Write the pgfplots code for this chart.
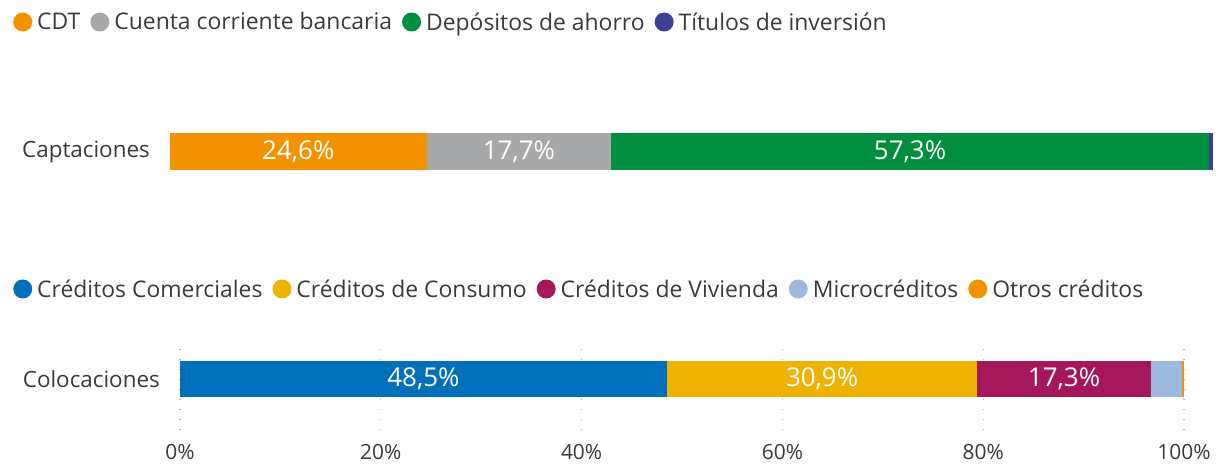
\documentclass[border=0pt]{standalone}
\usepackage{pgfplots}
\pgfplotsset{compat=1.18}
\usepackage{fontspec}
\setmainfont{Open Sans}
\definecolor{cdt}{HTML}{F39200}
\definecolor{cta}{HTML}{A7A8AA}
\definecolor{dep}{HTML}{008F3E}
\definecolor{tit}{HTML}{3C3F94}
\definecolor{com}{HTML}{0070BA}
\definecolor{con}{HTML}{EDB300}
\definecolor{viv}{HTML}{A4185A}
\definecolor{mic}{HTML}{9DBADE}
\definecolor{otr}{HTML}{F39200}
\definecolor{txt}{HTML}{3A3A3A}
\begin{document}
\begin{tikzpicture}
\useasboundingbox (0bp,0bp) rectangle (1216bp,464bp);
\pgfplotsset{
  nnc/.style={nodes near coords={\pgfmathprintnumber[fixed,fixed zerofill,precision=1,use comma]{\pgfplotspointmeta}\%}},
  common/.style={
    scale only axis, xbar stacked, xmin=0, xmax=100,
    axis line style={draw=none}, major tick length=0pt,
    point meta=explicit,
    /pgf/number format/assume math mode=true,
    yticklabel style={font=\fontsize{22.5}{22.5}\selectfont, text=txt, inner sep=0pt, xshift=-20bp},
    every node near coord/.append style={font=\fontsize{26}{26}\selectfont, text=white},
    legend style={draw=none, fill=none, legend columns=-1, inner sep=0pt,
      font=\fontsize{23}{23}\selectfont, text=txt,
      /tikz/every odd column/.append style={column sep=4bp},
      /tikz/every even column/.append style={column sep=9bp},
      nodes={inner sep=1bp}},
    legend image code/.code={\fill[##1] (0bp,0bp) circle (9.5bp);},
  }
}
\begin{axis}[common,
  at={(170bp,294bp)}, anchor=south west,
  width=1043bp, height=37bp, bar width=37bp,
  ymin=-0.5, ymax=0.5,
  xtick=\empty, ytick={0}, yticklabels={Captaciones},
  legend style={at={(-0.1505,4.0)}, anchor=west},
]
\addplot[fill=cdt, draw=none, nnc] coordinates {(24.6,0) [24.6]};
\addplot[fill=cta, draw=none, nnc] coordinates {(17.7,0) [17.7]};
\addplot[fill=dep, draw=none, nnc] coordinates {(57.3,0) [57.3]};
\addplot[fill=tit, draw=none] coordinates {(0.4,0) [0.4]};
\legend{CDT, Cuenta corriente bancaria, Depósitos de ahorro, Títulos de inversión}
\end{axis}
\begin{axis}[common,
  at={(180bp,34bp)}, anchor=south west,
  width=1004bp, height=90bp, bar width=36bp,
  ymin=-51, ymax=39,
  xtick={0,20,40,60,80,100},
  xticklabel={\pgfmathprintnumber{\tick}\%},
  xticklabel style={font=\fontsize{21}{21}\selectfont, text=txt, yshift=-11bp},
  ytick={0}, yticklabels={Colocaciones},
  xmajorgrids, grid style={gray!55, line width=1.3bp, dash pattern=on 1.3bp off 8.7bp},
  legend style={at={(-0.1663,1.5667)}, anchor=west},
]
\addplot[fill=com, draw=none, nnc] coordinates {(48.5,0) [48.5]};
\addplot[fill=con, draw=none, nnc] coordinates {(30.9,0) [30.9]};
\addplot[fill=viv, draw=none, nnc] coordinates {(17.3,0) [17.3]};
\addplot[fill=mic, draw=none] coordinates {(3.1,0) [3.1]};
\addplot[fill=otr, draw=none] coordinates {(0.2,0) [0.2]};
\legend{Créditos Comerciales, Créditos de Consumo, Créditos de Vivienda, Microcréditos, Otros créditos}
\end{axis}
\end{tikzpicture}
\end{document}
